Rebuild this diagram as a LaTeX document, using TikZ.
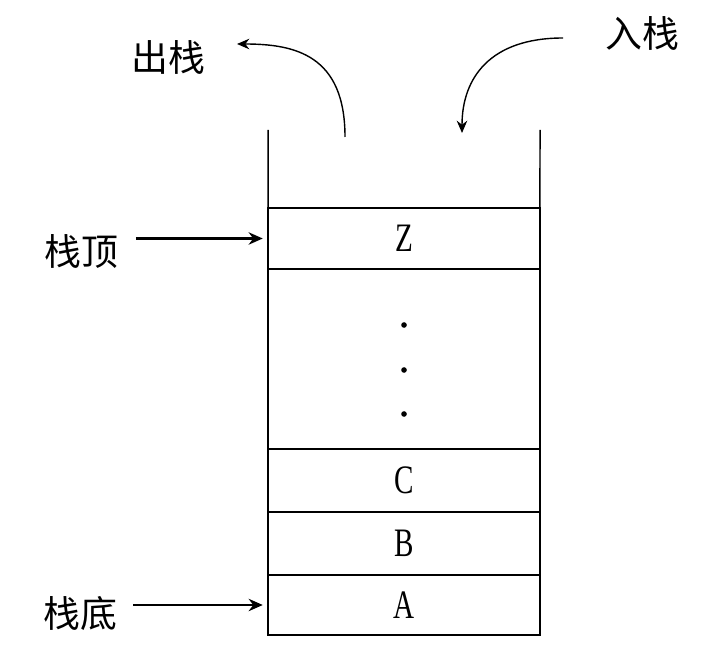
\documentclass[tikz,border=0pt]{standalone}
\usepackage{fontspec}
\usetikzlibrary{arrows.meta}
\newfontfamily\cnfont{Noto Sans CJK SC}
\newfontfamily\cellfont[FakeStretch=0.72]{Liberation Serif}
\tikzset{
  cell/.style={draw, line width=0.85pt, minimum width=5.44cm, inner sep=0pt, outer sep=0pt, font=\cellfont\fontsize{23}{26}\selectfont},
  lbl/.style={font=\cnfont\fontsize{21}{25}\selectfont, inner sep=0pt},
  wall/.style={line width=0.85pt},
  pointer/.style={-{Stealth[length=8pt, width=7pt]}, line width=1.6pt, shorten >=3pt},
  flow/.style={-{Stealth[length=7pt, width=6pt]}, line width=0.8pt}
}
\begin{document}
\begin{tikzpicture}[x=0.02cm, y=-0.02cm]
\useasboundingbox (0,0) rectangle (726,668);
% stack cells
\node[cell, minimum height=1.22cm] (z) at (404,238.5) {Z};
\node[cell, minimum height=3.6cm] (dots) at (404,359) {};
\node[cell, minimum height=1.26cm] (c) at (404,480.5) {C};
\node[cell, minimum height=1.26cm] (b) at (404,543.5) {B};
\node[cell, minimum height=1.2cm] (a) at (404,605) {A};
\foreach \y in {325,370,414} \fill (404,\y) circle (1.6pt);
% open top
\coordinate (topL) at (268,130);
\coordinate (topR) at (540,130);
\draw[wall] (topL) -- (z.north west);
\draw[wall] (topR) -- (z.north east);
% labels
\node[lbl] (out) at (168,57) {出栈};
\node[lbl] (in) at (642,33) {入栈};
\node[lbl] (top) at (81,252) {栈顶};
\node[lbl] (bottom) at (80,613) {栈底};
% pointers
\draw[pointer] ([xshift=10pt]top.east |- z.west) -- (z.west);
\draw[pointer] ([xshift=9pt]bottom.east |- a.west) -- (a.west);
% push / pop
\coordinate (outFoot) at (345,137);
\coordinate (outTip) at (237,44);
\coordinate (inStart) at (563,38);
\coordinate (inTip) at (462,133);
\draw[flow] (outFoot) .. controls (345,55) and (295,44) .. (outTip);
\draw[flow] (inStart) .. controls (490,38) and (462,78) .. (inTip);
\end{tikzpicture}
\end{document}
